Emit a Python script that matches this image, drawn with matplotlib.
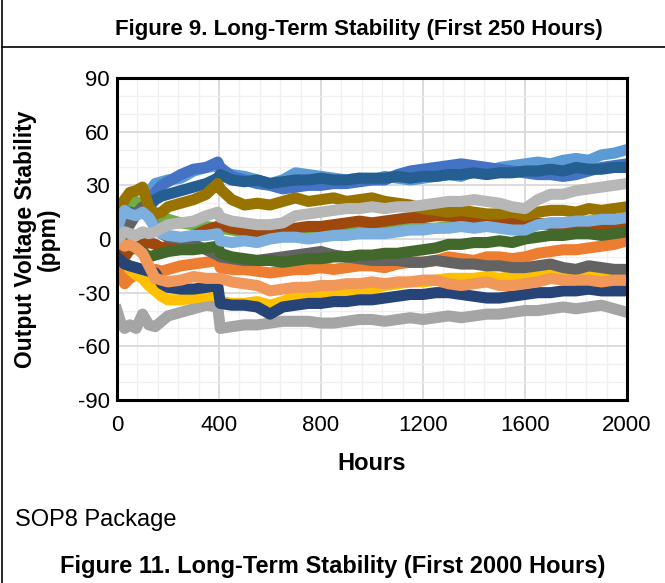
import matplotlib
matplotlib.use("Agg")
import matplotlib.pyplot as plt
from matplotlib.lines import Line2D
from matplotlib.ticker import MultipleLocator

plt.rcParams['font.family'] = ['Liberation Sans', 'DejaVu Sans']
plt.rcParams['axes.unicode_minus'] = False

# Long-term stability, 15 units, SOP8
hours = [0, 15, 30, 50, 75, 100, 125, 150, 175, 200, 250, 300, 350, 395, 405,
         450, 500, 550, 600, 650, 700, 750, 800, 850, 900, 950, 1000, 1050, 1100,
         1150, 1200, 1250, 1300, 1350, 1400, 1450, 1500, 1550, 1600, 1650, 1700,
         1750, 1800, 1850, 1900, 1950, 2000]

unit1 = [8, 10, 12, 14, 16, 18, 26, 31, 32, 33, 34, 38, 40, 41, 38,
         36, 35, 33, 31, 33, 37, 36, 35, 34, 33, 34, 33, 35, 34,
         33, 34, 35, 36, 35, 38, 37, 40, 41, 42, 43, 42,
         44, 45, 44, 47, 48, 50]
unit2 = [-5, -20, -25, -22, -20, -21, -18, -17, -18, -17, -15, -14, -13, -12, -16,
         -17, -17, -18, -19, -18, -17, -17, -16, -17, -16, -15, -15, -16, -14,
         -13, -13, -12, -10, -11, -12, -10, -10, -11, -10, -8, -7,
         -6, -6, -5, -4, -3, -1]
unit3 = [-40, -47, -50, -48, -50, -42, -48, -49, -46, -43, -41, -39, -37, -38, -50,
         -49, -48, -48, -47, -46, -46, -46, -47, -47, -46, -45, -45, -46, -45,
         -44, -45, -44, -43, -44, -43, -42, -42, -41, -40, -40, -39,
         -38, -39, -38, -37, -39, -41]
unit4 = [-5, -10, -12, -17, -20, -22, -26, -29, -32, -34, -34, -33, -32, -31, -35,
         -36, -36, -35, -37, -35, -32, -30, -30, -29, -29, -28, -28, -26, -25,
         -24, -24, -23, -22, -22, -22, -21, -22, -21, -22, -21, -20,
         -21, -20, -20, -20, -20, -20]
unit5 = [5, 8, 10, 12, 15, 18, 22, 26, 30, 32, 36, 39, 40, 43, 40,
         35, 33, 31, 30, 28, 29, 30, 30, 31, 31, 32, 33, 33, 36,
         38, 39, 40, 41, 42, 41, 40, 39, 38, 37, 36, 36,
         35, 36, 38, 40, 41, 42]
unit6 = [5, 10, 14, 19, 21, 18, 14, 13, 12, 11, 9, 8, 7, 6, 6,
         5, 4, 3, 3, 3, 4, 3, 3, 4, 4, 4, 5, 5, 5,
         6, 6, 6, 7, 7, 7, 8, 7, 7, 8, 8, 9,
         9, 9, 10, 10, 10, 11]
unit7 = [5, 12, 16, 15, 14, 16, 18, 22, 24, 25, 27, 29, 31, 34, 36,
         33, 32, 33, 31, 32, 33, 33, 34, 33, 33, 34, 34, 34, 35,
         34, 35, 35, 36, 36, 37, 36, 37, 37, 38, 38, 39,
         38, 40, 39, 39, 40, 40]
unit8 = [-3, -8, -10, -6, -5, -3, -2, -3, -5, -4, -2, 2, 5, 7, 8,
         6, 5, 4, 4, 5, 6, 7, 7, 8, 9, 10, 9, 10, 11,
         12, 12, 13, 13, 12, 12, 12, 11, 11, 10, 9, 8,
         8, 7, 7, 6, 7, 8]
unit9 = [3, 6, 5, 8, 14, 18, 12, 7, 3, 1, 0, -3, -6, -9, -10,
         -11, -12, -12, -11, -10, -9, -8, -7, -9, -10, -11, -12, -12, -12,
         -13, -13, -12, -13, -14, -14, -15, -15, -16, -16, -15, -14,
         -16, -17, -15, -16, -17, -17]
unit10 = [10, 18, 22, 26, 27, 29, 18, 14, 15, 18, 20, 22, 25, 31, 28,
          22, 19, 20, 19, 21, 23, 21, 22, 23, 21, 22, 23, 21, 20,
          19, 17, 16, 15, 16, 15, 14, 14, 15, 13, 15, 16,
          16, 15, 17, 16, 17, 18]
unit11 = [-10, -12, -14, -15, -16, -17, -18, -19, -25, -27, -28, -28, -27, -26, -36,
          -37, -37, -38, -42, -38, -37, -36, -36, -35, -35, -34, -34, -33, -32,
          -31, -31, -30, -30, -31, -32, -33, -33, -32, -31, -30, -30,
          -29, -29, -28, -29, -29, -29]
unit12 = [0, -3, -2, -4, -5, -7, -10, -9, -8, -7, -6, -6, -5, -4, -8,
          -10, -11, -12, -12, -13, -12, -11, -11, -10, -10, -9, -9, -8, -8,
          -7, -6, -5, -3, -3, -2, -2, -1, -2, 0, 1, 2,
          2, 3, 3, 2, 3, 4]
unit13 = [5, 12, 16, 14, 13, 15, 12, 6, 3, 2, 1, 2, 2, 3, -1,
          -2, -1, -2, 0, 1, 1, 0, 1, 2, 2, 3, 3, 3, 4,
          5, 5, 6, 6, 7, 6, 7, 6, 5, 5, 8, 9,
          9, 10, 10, 11, 11, 12]
unit14 = [-3, -2, -4, -3, -5, -8, -15, -22, -23, -24, -23, -21, -22, -22, -22,
          -24, -25, -26, -29, -28, -27, -27, -26, -26, -25, -25, -24, -25, -24,
          -24, -23, -23, -25, -26, -25, -24, -26, -26, -25, -24, -22,
          -23, -23, -23, -24, -23, -23]
unit15 = [0, 2, 4, 3, 2, 4, 3, 4, 6, 8, 9, 10, 13, 15, 12,
          10, 9, 8, 8, 9, 13, 14, 15, 16, 17, 17, 18, 17, 18,
          18, 19, 20, 21, 21, 22, 21, 20, 18, 17, 22, 25,
          25, 27, 28, 29, 30, 31]

units = [unit1, unit2, unit3, unit4, unit5, unit6, unit7, unit8,
         unit9, unit10, unit11, unit12, unit13, unit14, unit15]
colors = ['#5B9BD5', '#ED7D31', '#A5A5A5', '#FFC000', '#4472C4', '#70AD47',
          '#255E91', '#9E480E', '#636363', '#997300', '#264478', '#43682B',
          '#7CAFDD', '#F1975A', '#B7B7B7']

fig = plt.figure(figsize=(6.65, 5.83), dpi=100)
ax = fig.add_axes([117/665, 1 - 400/583, 510/665, 322/583])

for vals, c in zip(units, colors):
    ax.plot(hours, vals, color=c, lw=8, solid_joinstyle='round')

ax.set_xlim(0, 2000)
ax.set_ylim(-90, 90)
ax.xaxis.set_major_locator(MultipleLocator(400))
ax.xaxis.set_minor_locator(MultipleLocator(80))
ax.yaxis.set_major_locator(MultipleLocator(30))
ax.yaxis.set_minor_locator(MultipleLocator(10))
ax.grid(which='major', color='#D9D9D9', lw=1.3, zorder=0)
ax.grid(which='minor', color='#F0F0F0', lw=1.0, zorder=0)
ax.set_axisbelow(True)
ax.tick_params(which='both', length=0, labelsize=16)
ax.tick_params(axis='x', pad=11)
ax.tick_params(axis='y', pad=5)
for s in ax.spines.values():
    s.set_linewidth(2.2)
    s.set_color('black')

ax.set_xlabel('Hours', fontsize=17, fontweight='bold', labelpad=11)
ax.set_ylabel('Output Voltage Stability\n(ppm)', fontsize=16.5, fontweight='bold',
              labelpad=13, linespacing=1.0)

# page frame and captions
fig.add_artist(Line2D([2/665, 2/665], [0, 1], color='black', lw=1.2))
fig.add_artist(Line2D([2/665, 1], [1 - 47/583, 1 - 47/583], color='black', lw=1.2))
fig.text(359/665, 1 - 30/583, 'Figure 9. Long-Term Stability (First 250 Hours)',
         ha='center', va='center', fontsize=16, fontweight='bold')
fig.text(15/665, 1 - 520/583, 'SOP8 Package', ha='left', va='center', fontsize=17)
fig.text(0.5, 1 - 566/583, 'Figure 11. Long-Term Stability (First 2000 Hours)',
         ha='center', va='center', fontsize=17, fontweight='bold')

fig.savefig('out.png', dpi=100)
